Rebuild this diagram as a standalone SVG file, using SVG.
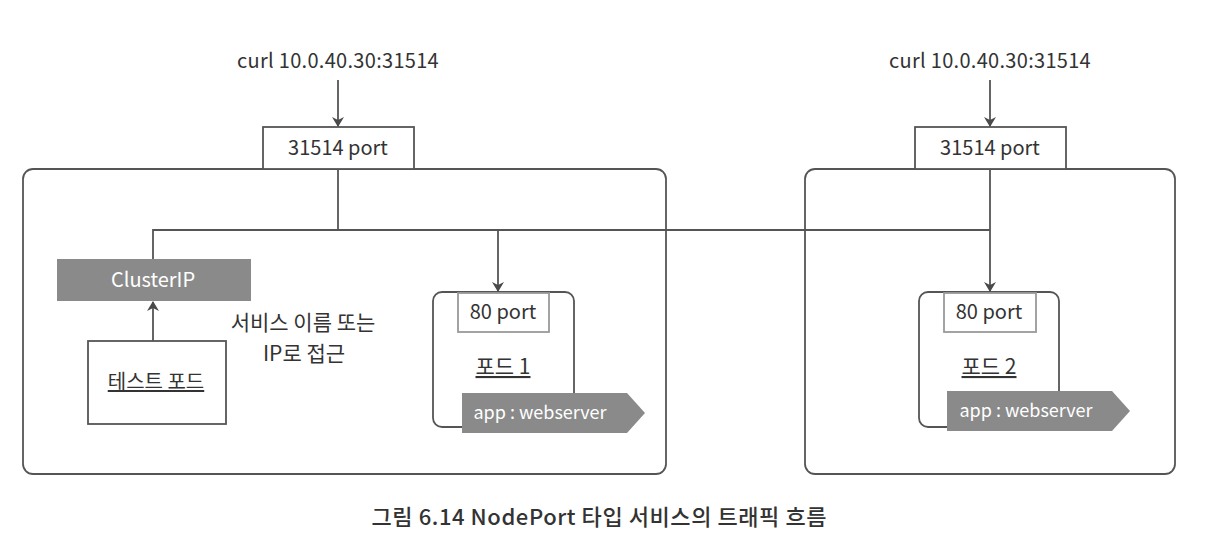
<svg xmlns="http://www.w3.org/2000/svg" width="1222" height="540" viewBox="0 0 1222 540">
<defs>
<marker id="ah" viewBox="0 0 10 12" refX="9" refY="6" markerWidth="10" markerHeight="12" markerUnits="userSpaceOnUse" orient="auto">
<path d="M0,0 L10,6 L0,12 L3,6 Z" fill="#4a4a4a"/>
</marker>
<style>
text{font-family:"Noto Sans CJK KR","Noto Sans",sans-serif;fill:#333333;}
.t20{font-size:20px;}
.t21{font-size:21px;}
.t18{font-size:18px;}
.w{fill:#ffffff;}
.box{fill:#ffffff;stroke:#555555;stroke-width:1.8;}
.pbox{fill:#ffffff;stroke:#9a9a9a;stroke-width:1.8;}
.gray{fill:#8a8a8a;}
.line{fill:none;stroke:#555555;stroke-width:1.8;}
</style>
</defs>
<rect width="1222" height="540" fill="#ffffff"/>
<g id="cluster-left"><rect class="box" x="23" y="169" width="643" height="305" rx="10"/></g>
<g id="cluster-right"><rect class="box" x="805" y="169" width="370" height="305" rx="10"/></g>
<g id="curl-left"><text class="t20" x="338" y="68" text-anchor="middle" letter-spacing="0.3">curl 10.0.40.30:31514</text></g>
<g id="curl-right"><text class="t20" x="990" y="68" text-anchor="middle" letter-spacing="0.3">curl 10.0.40.30:31514</text></g>
<g id="nodeport-left"><rect class="box" x="263" y="127" width="151" height="42"/><text class="t20" x="338" y="155" text-anchor="middle">31514 port</text></g>
<g id="nodeport-right"><rect class="box" x="915" y="127" width="151" height="42"/><text class="t20" x="990" y="155" text-anchor="middle">31514 port</text></g>
<g id="clusterip"><rect class="gray" x="57" y="259" width="194" height="42"/><text class="t20 w" x="153" y="287" text-anchor="middle">ClusterIP</text></g>
<g id="testpod"><rect class="box" x="88" y="341" width="138" height="83"/><text class="t20" x="156" y="389" text-anchor="middle" text-decoration="underline">테스트 포드</text></g>
<g id="note"><text class="t21" x="303" y="330" text-anchor="middle">서비스 이름 또는</text><text class="t21" x="304" y="361" text-anchor="middle">IP로 접근</text></g>
<g id="pod1">
<rect class="box" x="433" y="292" width="141" height="135" rx="9"/>
<rect class="pbox" x="458" y="293" width="91" height="39"/>
<text class="t20" x="503" y="319" text-anchor="middle">80 port</text>
<text class="t21" x="503" y="374" text-anchor="middle" text-decoration="underline">포드 1</text>
<polygon class="gray" points="462,393 627,393 645,413 627,433 462,433"/>
<text class="t18 w" x="540" y="419" text-anchor="middle">app : webserver</text>
</g>
<g id="pod2">
<rect class="box" x="919" y="292" width="140" height="135" rx="9"/>
<rect class="pbox" x="944" y="293" width="92" height="39"/>
<text class="t20" x="989" y="319" text-anchor="middle">80 port</text>
<text class="t21" x="989" y="374" text-anchor="middle" text-decoration="underline">포드 2</text>
<polygon class="gray" points="947,391 1112,391 1130,411 1112,431 947,431"/>
<text class="t18 w" x="1026" y="417" text-anchor="middle">app : webserver</text>
</g>
<g id="connectors">
<line class="line" x1="338" y1="80" x2="338" y2="126" marker-end="url(#ah)"/>
<line class="line" x1="990" y1="80" x2="990" y2="126" marker-end="url(#ah)"/>
<polyline class="line" points="338,169 338,230"/>
<polyline class="line" points="153,259 153,230 990,230"/>
<line class="line" x1="498" y1="230" x2="498" y2="291" marker-end="url(#ah)"/>
<line class="line" x1="990" y1="169" x2="990" y2="291" marker-end="url(#ah)"/>
<line class="line" x1="153" y1="341" x2="153" y2="302" marker-end="url(#ah)"/>
</g>
<g id="caption"><text x="599" y="525" text-anchor="middle" font-size="22" font-weight="500" textLength="455" lengthAdjust="spacing">그림 6.14 NodePort 타입 서비스의 트래픽 흐름</text></g>
</svg>
